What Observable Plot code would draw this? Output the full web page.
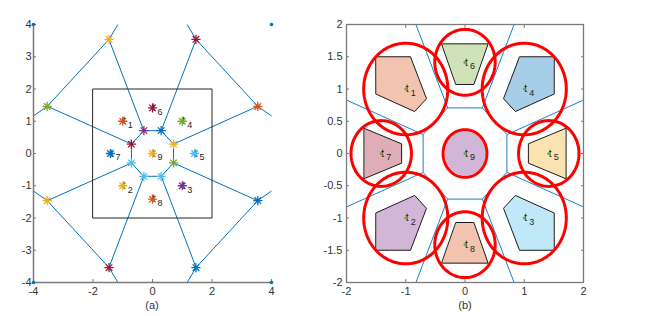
<!DOCTYPE html>
<html>
<head>
<meta charset="utf-8">
<script src="https://cdn.jsdelivr.net/npm/d3@7"></script>
<script src="https://cdn.jsdelivr.net/npm/@observablehq/plot@0.6"></script>
<style>
  html, body { margin: 0; padding: 0; background: #fff; }
  #wrap { position: relative; width: 650px; height: 316px; overflow: hidden; font-family: "Liberation Sans", Arial, sans-serif; }
  #wrap > .panel { position: absolute; top: 0; }
  .cap { position: absolute; top: 299px; font-size: 11px; color: #333; transform: translateX(-50%); }
</style>
</head>
<body>
<div id="wrap">
  <div class="panel" id="pa" style="left:0px"></div>
  <div class="panel" id="pb" style="left:300px"></div>
  <div class="cap" style="left:152px">(a)</div>
  <div class="cap" style="left:465px">(b)</div>
</div>
<script>
// ---------- data ----------
const BLUE = "#0072BD", ORANGE = "#D95319", YELLOW = "#EDB120", PURPLE = "#7E2F8E",
      GREEN = "#77AC30", LIGHTBLUE = "#4DBEEE", DARKRED = "#A2142F";

const targetX = [-1, -1, 1, 1, 1.414, 0, -1.414, 0, 0];
const targetY = [1, -1, -1, 1, 0, 1.414, 0, -1.414, 0];
const targetLabels = ["1", "2", "3", "4", "5", "6", "7", "8", "9"];
const targetMarkerColors = [ORANGE, YELLOW, PURPLE, GREEN, LIGHTBLUE, DARKRED, BLUE, ORANGE, YELLOW];

const cornerX = [-4, 4, 4, -4];
const cornerY = [4, 4, -4, -4];

const vertexX = [-0.29, 0.29, 0.71, 0.71, 0.29, -0.29, -0.71, -0.71, -1.46, 1.46, 3.54, 3.54, 1.46, -1.46, -3.54, -3.54];
const vertexY = [0.71, 0.71, 0.29, -0.29, -0.71, -0.71, -0.29, 0.29, 3.54, 3.54, 1.46, -1.46, -3.54, -3.54, -1.46, 1.46];
const vertexColors = [PURPLE, BLUE, YELLOW, GREEN, LIGHTBLUE, LIGHTBLUE, LIGHTBLUE, DARKRED,
                      YELLOW, DARKRED, ORANGE, BLUE, BLUE, DARKRED, YELLOW, GREEN];

const squareX = [-2, 2, 2, -2];
const squareY = [-2, -2, 2, 2];

const cell1 = [[-1.5, 1.5], [-0.92, 1.5], [-0.65, 0.85], [-0.85, 0.65], [-1.5, 0.92]];
const cell2 = [[-1.5, -0.92], [-0.85, -0.65], [-0.65, -0.85], [-0.92, -1.5], [-1.5, -1.5]];
const cell3 = [[1.5, -0.92], [0.85, -0.65], [0.65, -0.85], [0.92, -1.5], [1.5, -1.5]];
const cell4 = [[1.5, 1.5], [0.92, 1.5], [0.65, 0.85], [0.85, 0.65], [1.5, 0.92]];
const cell5 = [[1.7, 0.39], [1.07, 0.15], [1.07, -0.15], [1.7, -0.39]];
const cell6 = [[-0.39, 1.7], [0.39, 1.7], [0.15, 1.07], [-0.15, 1.07]];
const cell7 = [[-1.7, 0.39], [-1.07, 0.15], [-1.07, -0.15], [-1.7, -0.39]];
const cell8 = [[-0.15, -1.07], [0.15, -1.07], [0.39, -1.7], [-0.39, -1.7]];
const cells = [cell1, cell2, cell3, cell4, cell5, cell6, cell7, cell8];
const cellFillColors = [ORANGE, PURPLE, LIGHTBLUE, BLUE, YELLOW, GREEN, DARKRED, ORANGE];

const circleRadius = [0.71, 0.71, 0.71, 0.71, 0.51, 0.51, 0.51, 0.51, 0.37];
const discRadius = 0.35;   // filled region of target 9
const discColor = PURPLE;

const xTicksA = [-4, -2, 0, 2, 4];
const yTicksA = [-4, -3, -2, -1, 0, 1, 2, 3, 4];
const xTicksB = [-2, -1, 0, 1, 2];
const yTicksB = [-2, -1.5, -1, -0.5, 0, 0.5, 1, 1.5, 2];

// ---------- helpers ----------
const targets = targetX.map((x, i) => ({x, y: targetY[i], label: targetLabels[i], color: targetMarkerColors[i]}));
const corners = cornerX.map((x, i) => ({x, y: cornerY[i]}));
const vertices = vertexX.map((x, i) => ({x, y: vertexY[i], color: vertexColors[i]}));
const square = squareX.map((x, i) => ({x, y: squareY[i]}));
const sites = [...targets, ...corners].map(d => [d.x, d.y]);

function voronoiSegments(bounds) {
  const v = d3.Delaunay.from(sites).voronoi(bounds);
  const segs = [];
  let cur = null;
  v.render({
    moveTo(x, y) { cur = [x, y]; },
    lineTo(x, y) { segs.push({x1: cur[0], y1: cur[1], x2: x, y2: y}); cur = [x, y]; },
    closePath() {}
  });
  return segs;
}

const asterisk = {
  draw(ctx, size) {
    const r = Math.sqrt(size / Math.PI);
    const q = r * Math.SQRT1_2;
    ctx.moveTo(-r, 0); ctx.lineTo(r, 0);
    ctx.moveTo(0, -r); ctx.lineTo(0, r);
    ctx.moveTo(-q, -q); ctx.lineTo(q, q);
    ctx.moveTo(-q, q); ctx.lineTo(q, -q);
  }
};

const angles = d3.range(0, 360, 3);
function ring(cx, cy, r, id) {
  return angles.map(a => ({x: cx + r * Math.cos(a * Math.PI / 180), y: cy + r * Math.sin(a * Math.PI / 180), id}));
}
const redRings = targets.flatMap((t, i) => ring(t.x, t.y, circleRadius[i], i));
const disc = ring(targets[8].x, targets[8].y, discRadius, 0);

const fmt = d => String(d);
const style = {fontFamily: "Liberation Sans, Arial, sans-serif", fontSize: "11px", color: "#333", background: "#fff", overflow: "visible"};
const AX = "#7a7a7a";

// ---------- panel (a) ----------
const plotA = Plot.plot({
  width: 300, height: 316,
  marginLeft: 33, marginRight: 29, marginTop: 24, marginBottom: 34,
  style,
  x: {domain: [-4, 4]},
  y: {domain: [-4, 4]},
  marks: [
    Plot.link(voronoiSegments([-4, -4, 4, 4]), {x1: "x1", y1: "y1", x2: "x2", y2: "y2", stroke: BLUE, strokeWidth: 1}),
    Plot.line(square, {x: "x", y: "y", curve: "linear-closed", stroke: "#262626", strokeWidth: 1}),
    Plot.ruleX([-4], {stroke: AX, strokeWidth: 1.5}),
    Plot.ruleY([-4], {stroke: AX, strokeWidth: 1.5}),
    Plot.axisX({ticks: xTicksA, tickFormat: fmt, tickSize: -3, tickPadding: 8, label: null, stroke: AX, fill: "#333"}),
    Plot.axisY({ticks: yTicksA, tickFormat: fmt, tickSize: -3, tickPadding: 5, label: null, stroke: AX, fill: "#333"}),
    Plot.text(targets, {x: "x", y: "y", text: () => "t", fontSize: 10, textAnchor: "start", dx: 0, fill: "#111"}),
    Plot.dot(targets, {x: "x", y: "y", symbol: asterisk, r: 4.6, stroke: "color", strokeWidth: 1.3, fill: "none"}),
    Plot.text(targets, {x: "x", y: "y", text: "label", fontSize: 9, textAnchor: "start", dx: 5, dy: 4, fill: "#222"}),
    Plot.dot(vertices, {x: "x", y: "y", symbol: asterisk, r: 4.6, stroke: "color", strokeWidth: 1.3, fill: "none"}),
    Plot.dot(corners, {x: "x", y: "y", r: 1.8, fill: BLUE, stroke: "none"})
  ],
  color: {type: "identity"}
});
document.getElementById("pa").append(plotA);

// ---------- panel (b) ----------
const plotB = Plot.plot({
  width: 350, height: 316,
  marginLeft: 46, marginRight: 67, marginTop: 24, marginBottom: 34,
  style,
  x: {domain: [-2, 2]},
  y: {domain: [-2, 2]},
  marks: [
    Plot.link(voronoiSegments([-2, -2, 2, 2]), {x1: "x1", y1: "y1", x2: "x2", y2: "y2", stroke: BLUE, strokeWidth: 0.9}),
    ...cells.map((c, i) => Plot.line(c, {x: d => d[0], y: d => d[1], curve: "linear-closed",
      fill: cellFillColors[i], fillOpacity: 0.35, stroke: "#1a1a1a", strokeWidth: 1})),
    Plot.line(disc, {x: "x", y: "y", curve: "linear-closed", fill: discColor, fillOpacity: 0.35, stroke: "#fff", strokeWidth: 1}),
    Plot.line(redRings, {x: "x", y: "y", z: "id", curve: "linear-closed", stroke: "#ff0000", strokeWidth: 3}),
    Plot.frame({stroke: AX, strokeWidth: 1.3}),
    Plot.axisX({ticks: xTicksB, tickFormat: fmt, tickSize: -3, tickPadding: 8, label: null, stroke: AX, fill: "#333"}),
    Plot.axisY({ticks: yTicksB, tickFormat: fmt, tickSize: -3, tickPadding: 7, label: null, stroke: AX, fill: "#333"}),
    Plot.axisX({anchor: "top", ticks: xTicksB, tickSize: -3, tickFormat: () => "", label: null, stroke: AX}),
    Plot.axisY({anchor: "right", ticks: yTicksB, tickSize: -3, tickFormat: () => "", label: null, stroke: AX}),
    Plot.text(targets, {x: "x", y: "y", text: () => "t", fontSize: 10, textAnchor: "start", dx: 0, fill: "#111"}),
    Plot.dot(targets, {x: "x", y: "y", r: 1.6, fill: GREEN, stroke: "none"}),
    Plot.text(targets, {x: "x", y: "y", text: "label", fontSize: 9, textAnchor: "start", dx: 5, dy: 4, fill: "#222"})
  ],
  color: {type: "identity"}
});
document.getElementById("pb").append(plotB);
</script>
</body>
</html>
